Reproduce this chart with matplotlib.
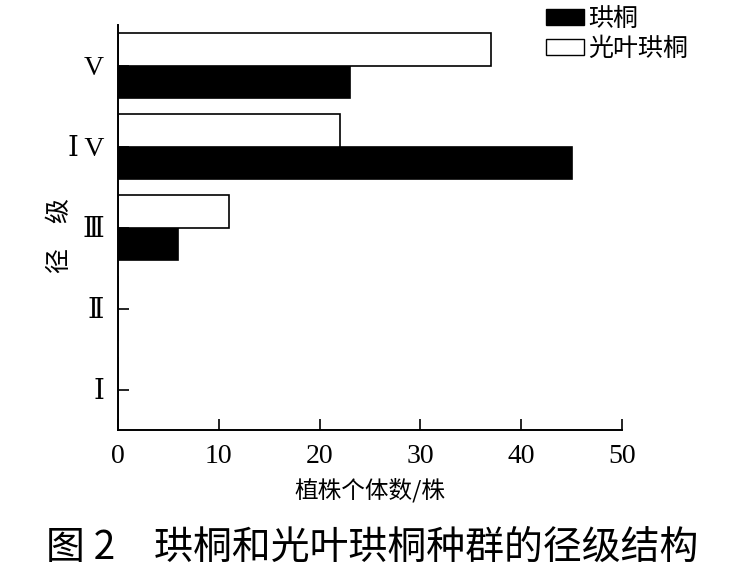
import matplotlib
matplotlib.use('Agg')
import matplotlib.pyplot as plt
from matplotlib.patches import Patch
import numpy as np

classes = ['Ⅰ', 'Ⅱ', 'Ⅲ', 'Ⅰ\u2009V', 'V']
gongtong = [0, 0, 6, 45, 23]          # 珙桐 (black)
guangye = [0, 0, 11, 22, 37]          # 光叶珙桐 (white)
xticks = [0, 10, 20, 30, 40, 50]

serif = ['Liberation Serif', 'DejaVu Serif', 'Noto Sans CJK SC']
cjk = ['Noto Sans CJK SC', 'DejaVu Sans']

fig = plt.figure(figsize=(7.35, 5.75), dpi=100)
ax = fig.add_axes([118 / 735, 1 - 430 / 575, 504 / 735, 405 / 575])

y = np.arange(len(classes))
h = 0.4
ax.barh(y - h / 2, gongtong, height=h, color='black', edgecolor='black', linewidth=1.2)
ax.barh(y + h / 2, guangye, height=h, color='white', edgecolor='black', linewidth=1.2)

ax.set_xlim(0, 50)
ax.set_ylim(-0.5, 4.5)
ax.set_xticks(xticks)
ax.set_xticklabels([str(v) for v in xticks], family=serif, fontsize=20)
ax.set_yticks(y)
ax.set_yticklabels(classes, family=serif, fontsize=20)
ax.tick_params(axis='both', direction='in', length=8, width=1.2, pad=10)

for s in ['top', 'right']:
    ax.spines[s].set_visible(False)
for s in ['left', 'bottom']:
    ax.spines[s].set_linewidth(1.4)

ax.xaxis.set_label_coords(0.475, -0.118)
ax.set_xlabel('植株个体数/株', family=cjk, fontsize=17)
fig.text(60 / 735, 1 - 235 / 575, '径\u3000级', family=cjk, fontsize=18,
         rotation=90, ha='center', va='center')

handles = [Patch(facecolor='black', edgecolor='black', label='珙桐'),
           Patch(facecolor='white', edgecolor='black', label='光叶珙桐')]
fig.legend(handles=handles, loc='upper left', bbox_to_anchor=(546 / 735, 1 - 6 / 575),
           frameon=False, prop={'family': cjk, 'size': 18}, handlelength=1.5,
           handleheight=0.6, handletextpad=0.2, labelspacing=0.15, borderpad=0,
           borderaxespad=0)

fig.text(372 / 735, 1 - 548 / 575, '图 2\u3000珙桐和光叶珙桐种群的径级结构',
         family=cjk, fontsize=28, ha='center', va='center')

fig.savefig('out.png', dpi=100)
